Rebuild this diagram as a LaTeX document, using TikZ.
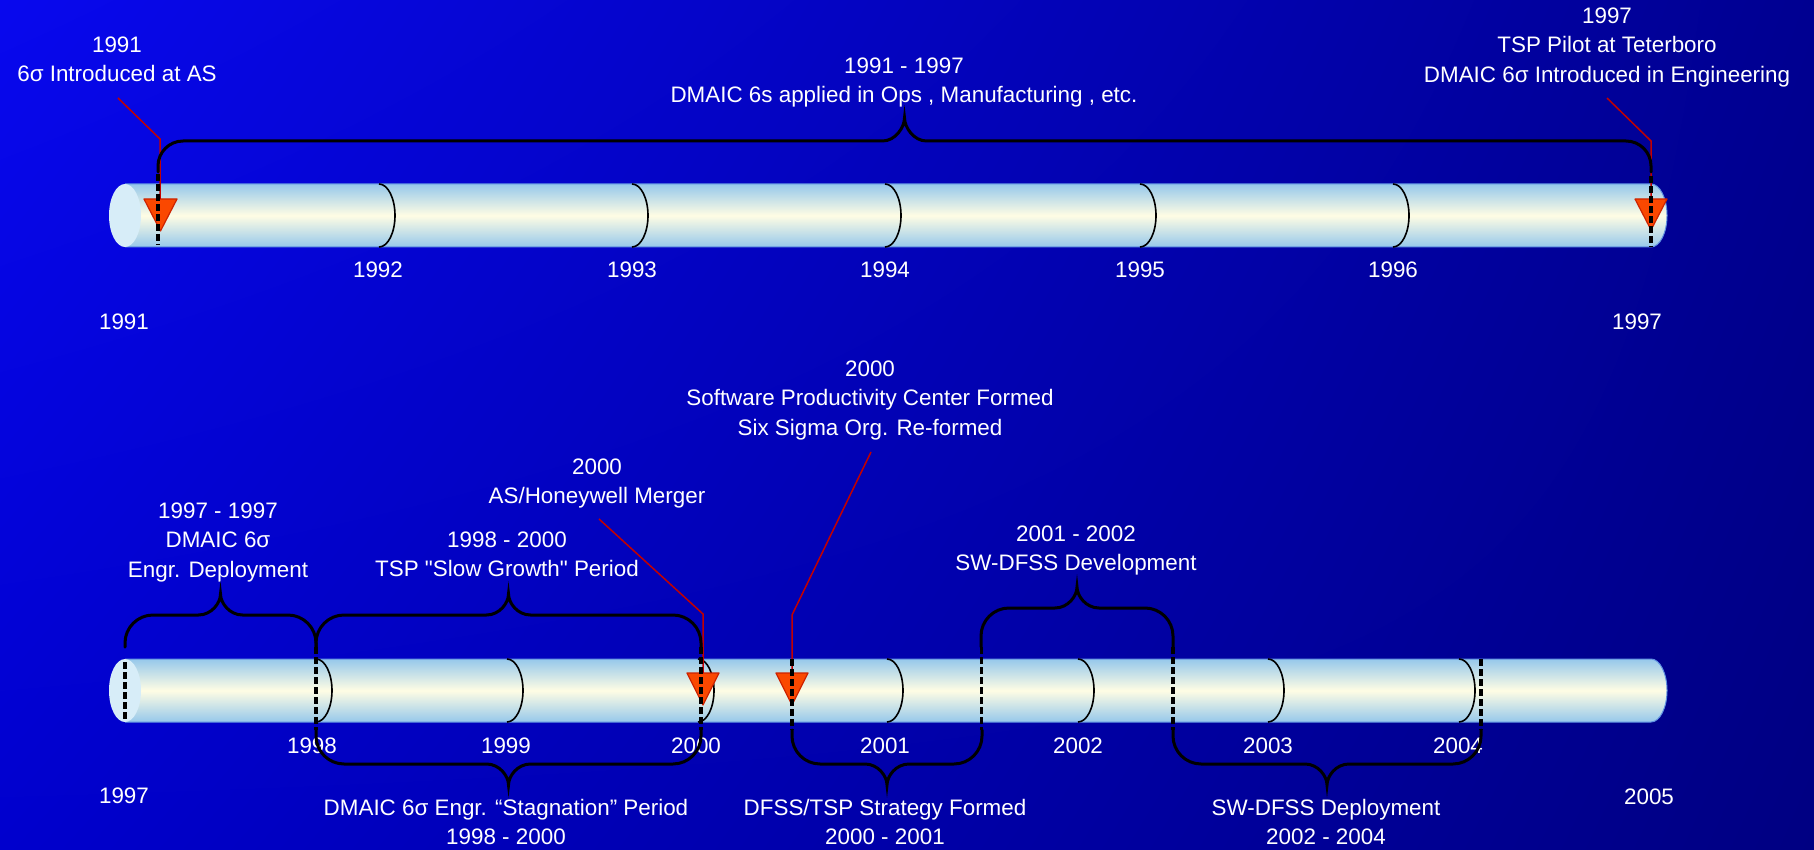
\documentclass[tikz,border=0pt]{standalone}
\usepackage{fontspec}
\usetikzlibrary{shadings}
\newfontfamily\arialf{Liberation Sans}
\definecolor{bgA}{RGB}{8,8,238}
\definecolor{bgB}{RGB}{0,0,145}
\definecolor{bgC}{RGB}{0,0,205}
\definecolor{bgD}{RGB}{0,0,130}
\definecolor{cylEdge}{RGB}{150,200,235}
\definecolor{cylMid}{RGB}{255,253,228}
\definecolor{cylLine}{RGB}{95,145,225}
\definecolor{capFill}{RGB}{215,237,248}
\definecolor{mkFill}{RGB}{250,72,0}
\definecolor{mkLine}{RGB}{205,35,0}
\definecolor{redLine}{RGB}{195,0,0}
\newcommand{\tlcyl}[2]{%
  \pgfmathsetmacro{\cm}{(#1+#2)/2}
  \shade[top color=cylEdge,bottom color=cylEdge,middle color=cylMid]
    (125,#1) -- (1651,#1) .. controls (1660,#1) and (1667,{\cm-17}) .. (1667,\cm)
    .. controls (1667,{\cm+17}) and (1660,#2) .. (1651,#2) -- (125,#2) -- cycle;
  \draw[cylLine,line width=1pt]
    (125,#1) -- (1651,#1) .. controls (1660,#1) and (1667,{\cm-17}) .. (1667,\cm)
    .. controls (1667,{\cm+17}) and (1660,#2) .. (1651,#2) -- (125,#2);
  \fill[capFill] (125,\cm) ellipse [x radius=16, y radius=31.5];
}
\newcommand{\yarc}[3]{%
  \draw[yeararc] (#1,#2) .. controls ({#1+9},#2) and ({#1+16},{(#2+#3)/2-17}) .. ({#1+16},{(#2+#3)/2})
    .. controls ({#1+16},{(#2+#3)/2+17}) and ({#1+9},#3) .. (#1,#3);
}
\newcommand{\tlbrace}[6]{% xl, xr, yend, yh, ytip, r
  \pgfmathsetmacro{\bsg}{ifthenelse(#3>#4,1,-1)}
  \pgfmathsetmacro{\bxm}{(#1+#2)/2}
  \draw[bracestyle] (#1,#3) -- (#1,{#4+\bsg*#6})
    .. controls (#1,{#4+\bsg*0.45*#6}) and ({#1+0.45*#6},#4) .. ({#1+#6},#4)
    -- ({\bxm-22},#4) .. controls ({\bxm-9},#4) and (\bxm,{#5+\bsg*9}) .. (\bxm,#5)
    .. controls (\bxm,{#5+\bsg*9}) and ({\bxm+9},#4) .. ({\bxm+22},#4)
    -- ({#2-#6},#4) .. controls ({#2-0.45*#6},#4) and (#2,{#4+\bsg*0.45*#6}) .. (#2,{#4+\bsg*#6})
    -- (#2,#3);
}
\begin{document}
\begin{tikzpicture}[x=1pt,y=-1pt,
  lbl/.style={text=white,font=\arialf\fontsize{22.4}{29.5}\selectfont,align=center,inner sep=0pt},
  yeararc/.style={black,line width=1.6pt},
  bracestyle/.style={black,line width=3pt,line cap=round},
  dashln/.style={black,line width=3.5pt,dash pattern=on 7pt off 3pt},
  redln/.style={redLine,line width=1.5pt},
  marker/.style={fill=mkFill,draw=mkLine,line width=1.2pt,line join=round}]
\useasboundingbox (0,0) rectangle (1814,850);
\shade[upper left=bgA,upper right=bgB,lower left=bgC,lower right=bgD] (0,0) rectangle (1814,850);

% cylinders
\tlcyl{184}{247}
\tlcyl{659}{722}

% year dividers
\foreach \x in {379,632,885,1140,1393} {\yarc{\x}{184}{247}}
\foreach \x in {316,507,698,887,1078,1268,1459} {\yarc{\x}{659}{722}}

% markers
\draw[marker] (144,199) -- (177,199) -- (160.5,231) -- cycle;
\draw[marker] (1635,199) -- (1667,199) -- (1651,230) -- cycle;
\draw[marker] (687,673) -- (719,673) -- (703,705) -- cycle;
\draw[marker] (776,673) -- (808,673) -- (792,705) -- cycle;

% label texts
\node[lbl] (t91) at (117,61) {\strut 1991\\\strut 6σ Introduced at AS};
\node[lbl] (t9197) at (904,82) {\strut 1991 - 1997\\\strut DMAIC 6s applied in Ops , Manufacturing , etc.};
\node[lbl] (t97) at (1607,47) {\strut 1997\\\strut TSP Pilot at Teterboro\\\strut DMAIC 6σ Introduced in Engineering};

\node[lbl] (y1992) at (378,272) {\strut 1992};
\node[lbl] (y1993) at (632,272) {\strut 1993};
\node[lbl] (y1994) at (885,272) {\strut 1994};
\node[lbl] (y1995) at (1140,272) {\strut 1995};
\node[lbl] (y1996) at (1393,272) {\strut 1996};
\node[lbl] (y1991) at (124,324) {\strut 1991};
\node[lbl] (y1997) at (1637,324) {\strut 1997};

\node[lbl] (b1) at (218,542) {\strut 1997 - 1997\\\strut DMAIC 6σ\\\strut Engr. Deployment};
\node[lbl] (b2) at (507,556) {\strut 1998 - 2000\\\strut TSP "Slow Growth" Period};
\node[lbl] (b3) at (597,483) {\strut 2000\\\strut AS/Honeywell Merger};
\node[lbl] (b4) at (870,400) {\strut 2000\\\strut Software Productivity Center Formed\\\strut Six Sigma Org. Re-formed};
\node[lbl] (b5) at (1076,550) {\strut 2001 - 2002\\\strut SW-DFSS Development};
\node[lbl] (b6) at (506,824) {\strut DMAIC 6σ Engr. “Stagnation” Period\\\strut 1998 - 2000};
\node[lbl] (b7) at (885,824) {\strut DFSS/TSP Strategy Formed\\\strut 2000 - 2001};
\node[lbl] (b8) at (1326,824) {\strut SW-DFSS Deployment\\\strut 2002 - 2004};

\node[lbl] (y1998) at (312,748) {\strut 1998};
\node[lbl] (y1999) at (506,748) {\strut 1999};
\node[lbl] (y2000) at (696,748) {\strut 2000};
\node[lbl] (y2001) at (885,748) {\strut 2001};
\node[lbl] (y2002) at (1078,748) {\strut 2002};
\node[lbl] (y2003) at (1268,748) {\strut 2003};
\node[lbl] (y2004) at (1458,748) {\strut 2004};
\node[lbl] (y1997b) at (124,798) {\strut 1997};
\node[lbl] (y2005) at (1649,799) {\strut 2005};

% red callout lines
\coordinate (r1a) at (118,98);   \coordinate (r1b) at (160,139);  \coordinate (r1c) at (160,199);
\coordinate (r2a) at (1607,98);  \coordinate (r2b) at (1651,141); \coordinate (r2c) at (1651,199);
\coordinate (r3a) at (599,519);  \coordinate (r3b) at (703,614);  \coordinate (r3c) at (703,673);
\coordinate (r4a) at (871,452);  \coordinate (r4b) at (792,615);  \coordinate (r4c) at (792,673);
\draw[redln] (r1a) -- (r1b) -- (r1c);
\draw[redln] (r2a) -- (r2b) -- (r2c);
\draw[redln] (r3a) -- (r3b) -- (r3c);
\draw[redln] (r4a) -- (r4b) -- (r4c);

% dashed milestone lines
\draw[dashln] (158,174) -- (158,245);
\draw[dashln] (1651,176) -- (1651,247);
\draw[dashln] (125,662) -- (125,720);
\draw[dashln] (316,647) -- (316,730);
\draw[dashln] (701,647) -- (701,730);
\draw[dashln] (792,659) -- (792,730);
\draw[dashln] (981.5,647) -- (981.5,730);
\draw[dashln] (1173,647) -- (1173,730);
\draw[dashln] (1481,659) -- (1481,730);

% braces
\tlbrace{158}{1651}{172}{141}{118}{25}
\tlbrace{125}{316}{647}{615}{594}{28}
\tlbrace{316}{701}{647}{615}{594}{28}
\tlbrace{981}{1173}{647}{608}{587}{28}
\tlbrace{316}{701}{730}{764}{785}{28}
\tlbrace{792}{982}{730}{764}{785}{28}
\tlbrace{1173}{1481}{730}{764}{785}{28}
\end{tikzpicture}
\end{document}
